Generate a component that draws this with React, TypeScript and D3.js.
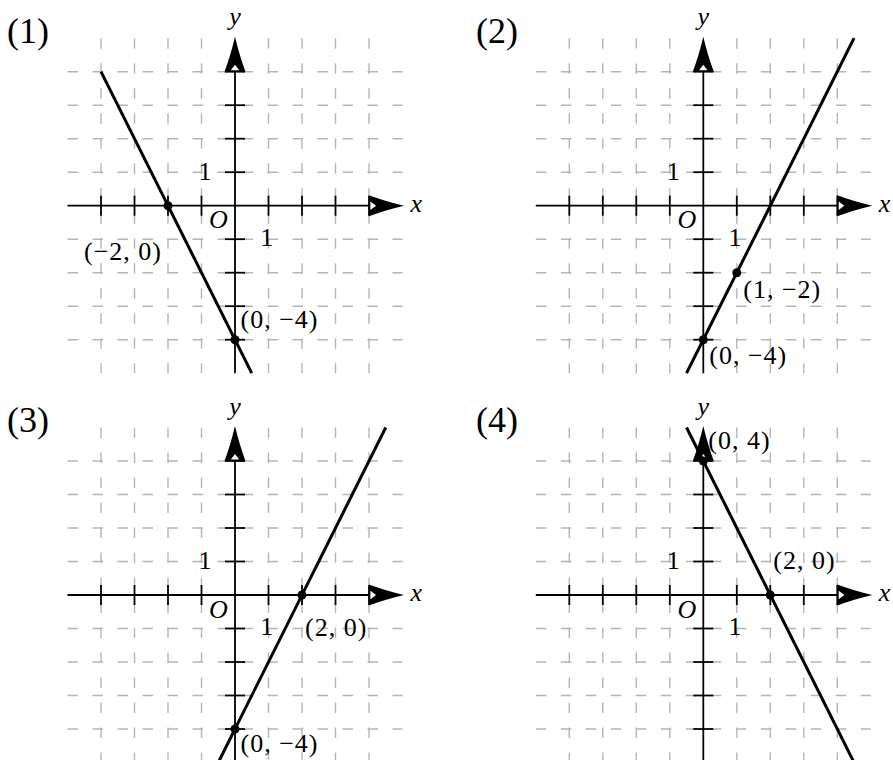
import * as d3 from "d3";

// chart content
const panelTitles = ["(1)", "(2)", "(3)", "(4)"];
const lineSlopes = [-2, 2, 2, -2];
const lineIntercepts = [-4, -4, -4, 4];
const lineStartX = [-4, -0.5, -0.5, -0.5];
const lineEndX = [0.5, 4.5, 4.5, 4.5];
const pointXs = [[-2, 0], [1, 0], [2, 0], [0, 2]];
const pointYs = [[0, -4], [-2, -4], [0, -4], [4, 0]];
const gridTicks = [-4, -3, -2, -1, 1, 2, 3, 4];
const axisExtent = [-5, 5];

// layout
const W = 893;
const H = 760;
const UNIT = 33.5;
const origins = [
    [235, 205.7],
    [703.3, 205.7],
    [235, 595],
    [703.3, 595],
];
const titlePos = [
    [7, 43],
    [476, 43],
    [7, 432],
    [476, 432],
];
// offsets (px) of each point label's left/baseline from its point
const labelOffsets = [
    [[-84, 54.5], [5.5, -12]],
    [[6.5, 25.5], [6, 24.5]],
    [[3, 40.5], [5.5, 23]],
    [[5, -12], [3, -26]],
];

const serif = "'Liberation Serif', 'Times New Roman', serif";
const fmt = (v: number) => (v < 0 ? "\u2212" + Math.abs(v) : String(v));

const arrowOuter = "M0,0 Q-19,-4.5 -35,-10.5 L-35,10.5 Q-19,4.5 0,0 Z";
const arrowInner = "M-33.6,-4.2 L-28,0 L-33.6,4.2 Z";

const Panel = ({ i }: { i: number }) => {
    const [ox, oy] = origins[i];
    const half = UNIT * 5;
    const x = d3.scaleLinear().domain(axisExtent).range([ox - half, ox + half]);
    const y = d3.scaleLinear().domain(axisExtent).range([oy + half, oy - half]);
    const f = (v: number) => lineSlopes[i] * v + lineIntercepts[i];
    const line = d3
        .line<number>()
        .x((d) => x(d))
        .y((d) => y(f(d)));
    const tickLen = 10;
    return (
        <g>
            <text x={titlePos[i][0]} y={titlePos[i][1]} fontFamily={serif} fontSize={36}>
                {panelTitles[i]}
            </text>
            <g stroke="#b5b5b5" strokeWidth={1.4} strokeDasharray="10.5 14.5">
                {gridTicks.map((t) => (
                    <line key={"v" + t} x1={x(t)} x2={x(t)} y1={y(5)} y2={y(-5)} />
                ))}
                {gridTicks.map((t) => (
                    <line key={"h" + t} x1={x(-5)} x2={x(5)} y1={y(t)} y2={y(t)} />
                ))}
            </g>
            <g stroke="#000" strokeWidth={1.8}>
                <line x1={x(-5)} x2={x(4)} y1={y(0)} y2={y(0)} />
                <line x1={x(0)} x2={x(0)} y1={y(-5)} y2={y(4)} />
                {gridTicks.map((t) => (
                    <line key={"tx" + t} x1={x(t)} x2={x(t)} y1={y(0) - tickLen} y2={y(0) + tickLen} />
                ))}
                {gridTicks.map((t) => (
                    <line key={"ty" + t} x1={x(0) - tickLen} x2={x(0) + tickLen} y1={y(t)} y2={y(t)} />
                ))}
            </g>
            <g transform={`translate(${x(5) + 1.5},${y(0)})`}>
                <path d={arrowOuter} fill="#000" />
                <path d={arrowInner} fill="#fff" />
            </g>
            <g transform={`translate(${x(0)},${y(5) - 1.5}) rotate(-90)`}>
                <path d={arrowOuter} fill="#000" />
                <path d={arrowInner} fill="#fff" />
            </g>
            <path d={line([lineStartX[i], lineEndX[i]]) ?? ""} stroke="#000" strokeWidth={3} fill="none" />
            {pointXs[i].map((px, j) => (
                <circle key={"p" + j} cx={x(px)} cy={y(pointYs[i][j])} r={4.5} fill="#000" />
            ))}
            <g fontFamily={serif} fontSize={26} fill="#000">
                {pointXs[i].map((px, j) => (
                    <text
                        key={"l" + j}
                        x={x(px) + labelOffsets[i][j][0]}
                        y={y(pointYs[i][j]) + labelOffsets[i][j][1]}
                        letterSpacing={1}
                    >
                        {`(${fmt(px)}, ${fmt(pointYs[i][j])})`}
                    </text>
                ))}
                <text x={x(0) - 30} y={y(0) - 25.7} textAnchor="middle">
                    1
                </text>
                <text x={x(1) - 1.8} y={y(0) + 40.3} textAnchor="middle">
                    1
                </text>
                <text x={x(0) - 16.5} y={y(0) + 22.5} textAnchor="middle" fontStyle="italic">
                    O
                </text>
                <text x={x(5) + 8} y={y(0) + 6} fontStyle="italic">
                    x
                </text>
                <text x={x(0)} y={y(5) - 13} textAnchor="middle" fontStyle="italic">
                    y
                </text>
            </g>
        </g>
    );
};

export default function App() {
    return (
        <svg width={W} height={H} style={{ position: "absolute", left: 0, top: 0, background: "#fff" }}>
            {panelTitles.map((_, i) => (
                <Panel key={i} i={i} />
            ))}
        </svg>
    );
}
